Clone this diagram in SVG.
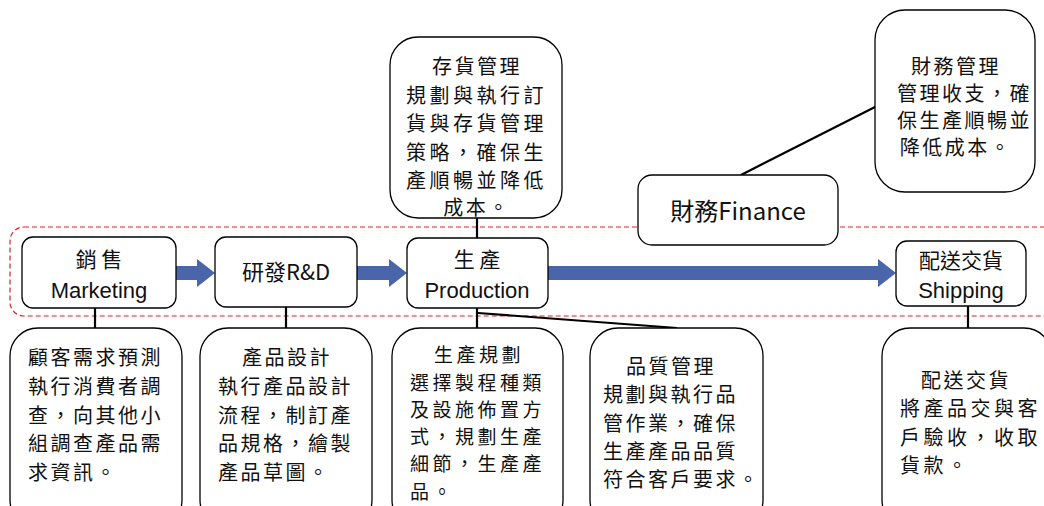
<svg xmlns="http://www.w3.org/2000/svg" width="1044" height="506" viewBox="0 0 1044 506">
<style>
.box{fill:#fff;stroke:#000;stroke-width:1.3}
.note{fill:#fff;stroke:#000;stroke-width:1.3}
.t{font-family:"Noto Sans CJK TC","Liberation Sans",sans-serif;fill:#111}
.lat{font-family:"Liberation Sans","Noto Sans CJK TC",sans-serif;fill:#111}
.lab{font-size:22px;text-anchor:middle}
.n{font-size:20px;letter-spacing:2.5px}
.w{letter-spacing:3.5px}
.s{font-size:19px;letter-spacing:3.5px}
.c{text-anchor:middle}
.ln{stroke:#000;stroke-width:2.2;fill:none}
.arr{fill:#4A65AA}
</style>
<rect width="1044" height="506" fill="#fff"/>
<rect x="10" y="227" width="1060" height="89" rx="14" fill="none" stroke="#e02020" stroke-width="1.2" stroke-dasharray="5,3"/>
<g id="connectors">
<line class="ln" x1="95" y1="308" x2="95" y2="328"/>
<line class="ln" x1="286" y1="307" x2="286" y2="328"/>
<line class="ln" x1="477" y1="308" x2="477" y2="328"/>
<line class="ln" x1="478" y1="313" x2="677" y2="328"/>
<line class="ln" x1="968" y1="306" x2="968" y2="328"/>
<line class="ln" x1="477" y1="218" x2="477" y2="238"/>
<line class="ln" x1="741" y1="175" x2="877" y2="106"/>
<polygon class="arr" points="176,266 197,266 197,259 215,273 197,287 197,280 176,280"/>
<polygon class="arr" points="357,266 389,266 389,259 407,273 389,287 389,280 357,280"/>
<polygon class="arr" points="548,266 878,266 878,259 896,273 878,287 878,280 548,280"/>
</g>
<g id="marketing"><rect class="box" x="22" y="237" width="154" height="71" rx="11"/><text class="t lab" x="99" y="267" style="font-size:21px">銷 售</text><text class="lat lab" x="99" y="298">Marketing</text></g>
<g id="rd"><rect class="box" x="215" y="237" width="142" height="70" rx="11"/><text class="t lab" x="286" y="280">研發R&amp;D</text></g>
<g id="production"><rect class="box" x="407" y="238" width="141" height="70" rx="11"/><text class="t lab" x="477" y="267" style="font-size:21px">生 產</text><text class="lat lab" x="477" y="298">Production</text></g>
<g id="shipping"><rect class="box" x="896" y="241" width="130" height="65" rx="11"/><text class="t lab" x="961" y="268" style="font-size:21px">配送交貨</text><text class="lat lab" x="961" y="298">Shipping</text></g>
<g id="finance"><rect class="box" x="638" y="175" width="200" height="70" rx="14"/><text class="t lab" x="738" y="220" style="font-size:24px">財務Finance</text></g>
<g id="inventory"><rect class="note" x="390" y="37" width="172" height="181" rx="28"/>
<text class="t n c" x="477" y="74">存貨管理</text>
<text class="t n w" x="406" y="103">規劃與執行訂</text>
<text class="t n w" x="406" y="131">貨與存貨管理</text>
<text class="t n w" x="406" y="160">策略，確保生</text>
<text class="t n w" x="406" y="188">產順暢並降低</text>
<text class="t n c" x="477" y="215">成本。</text></g>
<g id="finance-note"><rect class="note" x="875" y="10" width="160" height="182" rx="30"/>
<text class="t n c" x="956" y="74">財務管理</text>
<text class="t n" x="897" y="101">管理收支，確</text>
<text class="t n" x="897" y="128">保生產順暢並</text>
<text class="t n c" x="956" y="155">降低成本。</text></g>
<g id="marketing-note"><rect class="note" x="10" y="328" width="172" height="200" rx="28"/>
<text class="t n" x="28" y="365">顧客需求預測</text>
<text class="t n" x="28" y="394">執行消費者調</text>
<text class="t n" x="28" y="423">查，向其他小</text>
<text class="t n" x="28" y="451">組調查產品需</text>
<text class="t n" x="28" y="480">求資訊。</text></g>
<g id="rd-note"><rect class="note" x="200" y="328" width="172" height="200" rx="28"/>
<text class="t n c" x="287" y="365">產品設計</text>
<text class="t n" x="218" y="394">執行產品設計</text>
<text class="t n" x="218" y="423">流程，制訂產</text>
<text class="t n" x="218" y="451">品規格，繪製</text>
<text class="t n" x="218" y="480">產品草圖。</text></g>
<g id="production-note"><rect class="note" x="392" y="328" width="171" height="200" rx="28"/>
<text class="t s c" x="479" y="362">生產規劃</text>
<text class="t s" x="410" y="390">選擇製程種類</text>
<text class="t s" x="410" y="417">及設施佈置方</text>
<text class="t s" x="410" y="444">式，規劃生產</text>
<text class="t s" x="410" y="471">細節，生產產</text>
<text class="t s" x="410" y="499">品。</text></g>
<g id="quality-note"><rect class="note" x="590" y="328" width="173" height="200" rx="28"/>
<text class="t n c" x="671" y="374">品質管理</text>
<text class="t n" x="603" y="402">規劃與執行品</text>
<text class="t n" x="603" y="431">管作業，確保</text>
<text class="t n" x="603" y="459">生產產品品質</text>
<text class="t n" x="603" y="487">符合客戶要求。</text></g>
<g id="shipping-note"><rect class="note" x="882" y="328" width="170" height="200" rx="28"/>
<text class="t n c" x="966" y="388">配送交貨</text>
<text class="t n w" x="900" y="416">將產品交與客</text>
<text class="t n w" x="900" y="445">戶驗收，收取</text>
<text class="t n w" x="900" y="473">貨款。</text></g>
</svg>
